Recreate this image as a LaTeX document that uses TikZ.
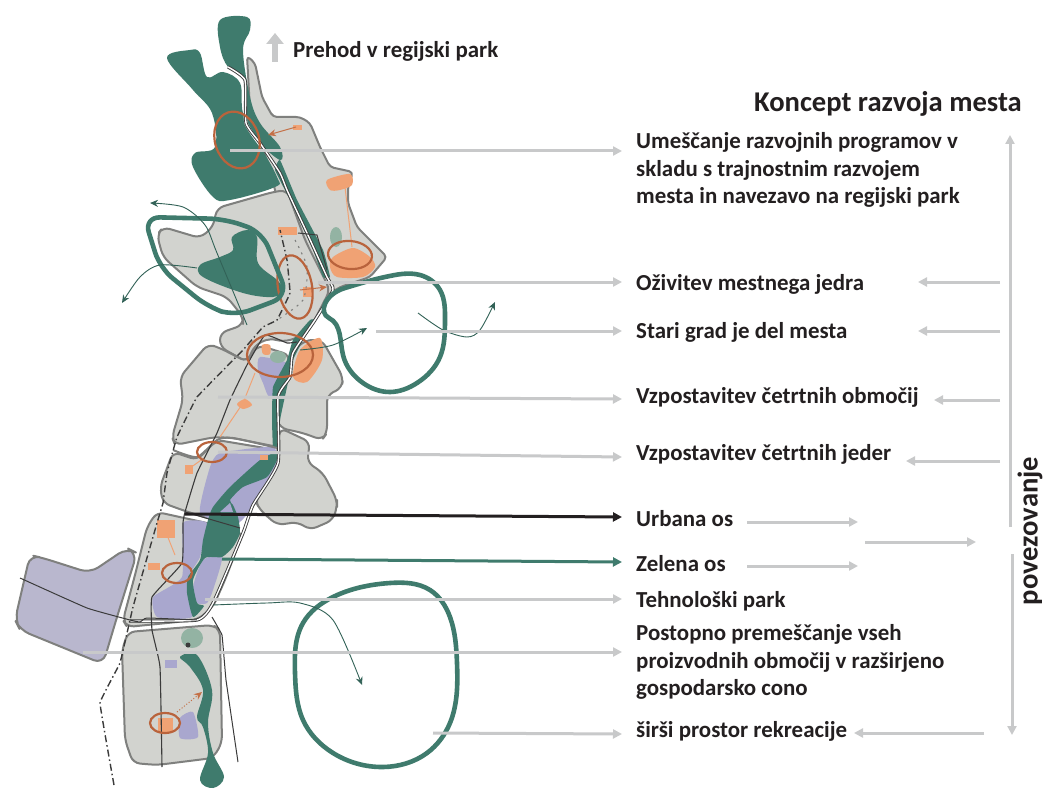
\documentclass[tikz,border=0pt]{standalone}
\usepackage{fontspec}
\setmainfont{Carlito}
\usetikzlibrary{arrows.meta,hobby}
\definecolor{landc}{HTML}{D2D3CF}
\definecolor{edgec}{HTML}{7F807E}
\definecolor{tealc}{HTML}{3F7B6D}
\definecolor{purp}{HTML}{A9A7CE}
\definecolor{purpl}{HTML}{B9B7CE}
\definecolor{oran}{HTML}{F0A274}
\definecolor{brwn}{HTML}{B9633C}
\definecolor{pale}{HTML}{93B3A3}
\definecolor{pointer}{HTML}{C8C9CA}
\definecolor{roadc}{HTML}{3B3B3B}
\definecolor{txtc}{HTML}{231F20}
\tikzset{
 blob/.style={use Hobby shortcut,closed=true},
 land/.style={draw=edgec,fill=landc,line width=2pt,line join=round,rounded corners=7pt},
 parkshape/.style={fill=tealc},
 purpshape/.style={fill=purp},
 oranshape/.style={fill=oran},
 loopline/.style={draw=tealc,line width=4.6pt,blob},
 ring/.style={draw=brwn,line width=2.2pt},
 road/.style={draw=roadc,line width=1pt},
 dashroad/.style={draw=roadc,line width=1.4pt,dash pattern=on 7pt off 3pt on 1.5pt off 3pt},
 dotroad/.style={draw=edgec,line width=1.1pt,dash pattern=on 2pt off 5pt},
 flow/.style={draw=tealc!80!black,line width=.9pt,-{Stealth[length=8pt,width=7pt]}},
 orline/.style={draw=oran,line width=1pt},
 orarrow/.style={draw=brwn!80!oran,line width=1pt,-{Stealth[length=8pt,width=7pt]}},
 pointerline/.style={draw=pointer,line width=3pt,-{Triangle[length=9pt,width=9pt]}},
 label/.style={anchor=west,inner sep=0pt,align=left,text=txtc,font=\bfseries\fontsize{22.9}{27.5}\selectfont},
}
\begin{document}
\begin{tikzpicture}[x=1pt,y=-1pt]
\useasboundingbox (0,0) rectangle (1044,789);
\fill[white] (0,0) rectangle (1044,789);
% land
\draw[land,rounded corners=4pt] (247,56)--(255,63)--(262,97)--(273,117)--(300,117)--(310,123)--(320,147)--(330,167)--(353,172)--(348,187)--(348,203)--(357,227)--(387,257)--(370,277)--(340,287)--(320,300)--(290,250)--(270,170)--(250,110)--cycle;
\draw[land] (217,208)--(273,192)--(287,190)--(305,240)--(330,290)--(312,325)--(300,337)--(283,342)--(270,338)--(255,345)--(247,362)--(220,347)--(220,333)--(243,325)--(243,317)--(227,297)--(197,287)--(163,257)--(157,235)--(163,227)--(200,238)--(213,227)--cycle;
\draw[land] (322,340)--(343,377)--(342,388)--(327,395)--(327,433)--(322,440)--(303,433)--(280,428)--(270,400)--(295,350)--(305,340)--cycle;
\draw[land] (208,344)--(220,348)--(247,362)--(258,345)--(290,355)--(280,395)--(278,447)--(233,438)--(215,437)--(175,445)--(172,437)--(183,400)--(180,377)--cycle;
\draw[land] (280,428)--(310,442)--(307,462)--(323,473)--(337,500)--(337,507)--(333,520)--(310,530)--(298,522)--(277,525)--(260,510)--(255,500)--(275,470)--cycle;
\draw[land] (173,452)--(197,460)--(217,440)--(277,450)--(277,465)--(253,507)--(230,525)--(185,511)--(163,503)--(160,487)--cycle;
\draw[land] (157,512)--(207,523)--(243,533)--(225,580)--(213,607)--(197,620)--(127,627)--(123,620)--(135,575)--(147,527)--cycle;
\draw[land,fill=purpl,rounded corners=10pt] (43,558)--(90,573)--(127,548)--(137,553)--(117,617)--(103,664)--(20,630)--(15,620)--(30,555)--cycle;
\draw[land] (128,632)--(213,625)--(220,630)--(222,743)--(213,758)--(157,765)--(133,763)--(125,740)--(122,650)--cycle;
% purple
\fill[purpshape] plot[smooth cycle,tension=.3] coordinates {(210,467)(220,453)(273,447)(277,467)(253,507)(235,525)(200,513)};
\fill[purpshape] plot[smooth cycle,tension=.3] coordinates {(183,523)(207,523)(200,557)(187,580)(192,617)(157,617)(153,597)(182,577)};
\fill[purpshape] plot[smooth cycle,tension=.4] coordinates {(203,560)(222,557)(213,590)(207,603)(197,603)(193,587)};
\fill[purpshape] plot[smooth cycle,tension=.4] coordinates {(260,357)(287,363)(287,378)(270,397)(263,383)(258,370)};
\fill[purpshape] (165,660) rectangle (177,668);
\fill[purpshape] plot[smooth cycle,tension=.4] coordinates {(180,718)(193,712)(198,737)(180,738)};
% green masses
\fill[parkshape] plot[smooth cycle,tension=.6] coordinates {(220,20)(247,17)(250,30)(243,50)(250,97)(260,123)(280,147)(280,160)(257,140)(245,115)(245,80)(228,67)(220,47)};
\fill[parkshape] plot[smooth cycle,tension=.6] coordinates {(167,58)(190,50)(200,53)(207,77)(223,72)(240,83)(243,113)(257,140)(277,177)(275,187)(230,200)(213,197)(193,167)(195,153)(215,147)(212,113)(193,90)};
\fill[parkshape] plot[smooth cycle,tension=.6] coordinates {(232,237)(247,230)(257,237)(258,263)(277,280)(283,290)(273,297)(243,293)(203,277)(200,265)(220,257)(233,250)};
\fill[parkshape] plot[smooth cycle,tension=.2] coordinates {(280,160)(297,200)(323,250)(330,277)(323,277)(313,250)(290,200)(275,170)};
\fill[parkshape] plot[smooth cycle,tension=.2] coordinates {(310,320)(293,340)(287,360)(273,387)(272,420)(273,447)(278,447)(280,420)(287,387)(293,360)(303,340)(316,320)};
\fill[parkshape] plot[smooth cycle,tension=.35] coordinates {(277,452)(277,460)(267,477)(243,487)(230,500)(233,505)(238,517)(240,533)(233,547)(222,557)(205,558)(193,580)(197,603)(204,606)(193,617)(187,593)(188,577)(200,560)(203,540)(208,520)(213,507)(230,487)(260,460)};
\fill[purpshape] (230,503)--(220,512)--(233,512)--cycle;
\fill[parkshape] plot[smooth cycle,tension=.6] coordinates {(180,657)(197,655)(212,690)(208,723)(213,753)(224,777)(213,788)(200,780)(208,753)(203,727)(197,717)(203,690)(190,667)};
% pale and orange
\fill[pale] (192,638) circle[x radius=11pt,y radius=10pt];
\fill[pale] (336,237) circle[x radius=6pt,y radius=10pt];
\fill[pale] (278,357) circle[x radius=8pt,y radius=6pt];
\fill[roadc] (188,645) circle[radius=2.5pt];
\fill[oranshape] plot[smooth cycle,tension=.5] coordinates {(327,180)(350,174)(352,185)(340,190)(330,190)};
\fill[oranshape] plot[smooth cycle,tension=.5] coordinates {(333,257)(353,248)(370,257)(375,267)(363,277)(337,277)(330,267)};
\fill[oranshape] (278,227) rectangle (297,235);
\fill[oranshape] (303,287) rectangle (313,297);
\fill[oranshape] (293,125) rectangle (302,130);
\fill[oranshape] plot[smooth cycle,tension=.5] coordinates {(262,345)(270,345)(270,354)(263,354)};
\fill[oranshape] plot[smooth cycle,tension=.5] coordinates {(300,350)(320,338)(322,360)(307,382)(293,377)};
\fill[oranshape] plot[smooth cycle,tension=.5] coordinates {(237,404)(245,399)(252,405)(243,409)};
\fill[oranshape] (185,465) rectangle (193,474);
\fill[oranshape] (157,520) rectangle (175,538);
\fill[oranshape] (148,563) rectangle (160,570);
\fill[oranshape] (158,718) rectangle (173,732);
\fill[oranshape] (260,455) rectangle (268,460);
\coordinate (ol1) at (345,187); \coordinate (ol2) at (352,247);
\coordinate (ol3) at (255,373); \coordinate (ol4) at (243,403); \coordinate (ol5) at (220,437);
\coordinate (ol6) at (167,535); \coordinate (ol7) at (175,555);
\coordinate (ol8) at (190,468); \coordinate (ol9) at (204,458);
\draw[orline] (ol1)--(ol2); \draw[orline] (ol3)--(ol4)--(ol5); \draw[orline] (ol6)--(ol7); \draw[orline] (ol8)--(ol9);
\coordinate (oa1) at (296,127); \coordinate (oa2) at (268,135);
\coordinate (oa3) at (300,290); \coordinate (oa4) at (327,287);
\coordinate (oa5) at (177,712); \coordinate (oa6) at (202,692);
\draw[orarrow] (oa1)--(oa2); \draw[orarrow] (oa3)--(oa4); \draw[orarrow,dotted] (oa5)--(oa6);
% river white channel and double lines
\draw[draw=white,line width=3.4pt,line cap=round] plot[smooth,tension=.3] coordinates {(245,82)(246,123)(262,147)};
\draw[draw=roadc,line width=3.2pt,line join=round] plot[smooth,tension=.3] coordinates {(228,67)(245,80)(246,123)(260,143)(280,173)(287,190)(307,233)(327,277)(333,290)(315,320)(293,353)(290,377)(278,397)(278,463)(253,505)(243,533)(213,603)(197,620)(130,621)};
\draw[draw=white,line width=1.4pt,line join=round] plot[smooth,tension=.3] coordinates {(228,67)(245,80)(246,123)(260,143)(280,173)(287,190)(307,233)(327,277)(333,290)(315,320)(293,353)(290,377)(278,397)(278,463)(253,505)(243,533)(213,603)(197,620)(130,621)};
% block edges
\draw[draw=edgec,line width=2pt] plot[smooth,tension=.4] coordinates {(173,450)(197,457)(217,440)(233,438)(277,448)};
% roads
\draw[road,line width=1.1pt] plot[smooth,tension=.2] coordinates {(162,767)(160,667)(152,630)(152,597)(182,563)(183,523)(185,512)(197,473)(217,433)(230,400)(247,365)(265,335)(287,343)(297,342)};
\draw[road] (185,512)--(240,528);
\draw[road] plot[smooth,tension=.2] coordinates {(20,578)(87,608)(130,620)(140,622)(147,618)(197,620)};
\draw[road] plot[smooth,tension=.1] coordinates {(212,617)(222,635)(226,680)(238,762)};
\draw[road] (298,233)--(317,235)--(327,270);
\draw[dashroad] plot[smooth,tension=.1] coordinates {(114,785)(100,703)(120,663)(133,607)(157,523)(163,503)(167,473)(177,437)(197,397)(243,350)(263,327)(277,320)(290,293)(287,260)(280,230)};
\draw[dotroad] plot[smooth,tension=.4] coordinates {(295,240)(307,267)(303,300)(277,320)};
% rings
\draw[ring,rotate around={18:(237,140)}] (237,140) circle[x radius=22pt,y radius=29pt];
\draw[ring,rotate around={-5:(350,255)}] (350,255) circle[x radius=22pt,y radius=14pt];
\draw[ring,rotate around={10:(295,287)}] (295,287) circle[x radius=17pt,y radius=32pt];
\draw[ring] (280,355) circle[x radius=33pt,y radius=22pt];
\draw[ring] (212,452) circle[x radius=15pt,y radius=10pt];
\draw[ring] (177,573) circle[x radius=15pt,y radius=10pt];
\draw[ring] (165,723) circle[x radius=15pt,y radius=10pt];
% green loops
\draw[draw=tealc,line width=4.6pt,rounded corners=16pt] (144,217)--(225,219)--(262,232)--(288,296)--(235,316)--(208,307)--(160,268)--cycle;
\draw[loopline] (345,288)..(385,277)..(420,275)..(440,290)..(445,320)..(440,357)..(417,383)..(390,392)..(363,383)..(343,355)..(329,318);
\draw[loopline] (390,583)..(430,590)..(450,617)..(457,663)..(450,723)..(427,753)..(383,767)..(333,753)..(303,720)..(295,673)..(303,623)..(333,597);
% thin flows
\coordinate (f1a) at (247,325); \coordinate (f1b) at (150,203);
\coordinate (f2a) at (197,268); \coordinate (f2b) at (122,303);
\coordinate (f3a) at (300,350); \coordinate (f3b) at (367,328);
\coordinate (f4a) at (418,313); \coordinate (f4b) at (495,302);
\coordinate (f5a) at (213,605); \coordinate (f5b) at (362,685);
\draw[flow] plot[smooth,tension=.5] coordinates {(f1a)(217,253)(205,225)(183,207)(f1b)};
\draw[flow] plot[smooth,tension=.5] coordinates {(f2a)(160,265)(140,277)(f2b)};
\draw[flow] plot[smooth,tension=.5] coordinates {(f3a)(333,345)(f3b)};
\draw[flow] plot[smooth,tension=.5] coordinates {(f4a)(443,330)(467,337)(480,330)(f4b)};
\draw[flow] plot[smooth,tension=.5] coordinates {(f5a)(267,603)(300,603)(333,620)(f5b)};
% texts
\node[label,anchor=base west] (prehod) at (293,58) {Prehod v regijski park};
\node[label,font=\bfseries\fontsize{28.6}{34}\selectfont,anchor=base east] (koncept) at (1022,112) {Koncept razvoja mesta};
\node[label] (t1) at (636,170) {Umeščanje razvojnih programov v\\skladu s trajnostnim razvojem\\mesta in navezavo na regijski park};
\node[label,anchor=base west] (t2) at (636,290) {Oživitev mestnega jedra};
\node[label,anchor=base west] (t3) at (636,338) {Stari grad je del mesta};
\node[label,anchor=base west] (t4) at (636,403) {Vzpostavitev četrtnih območij};
\node[label,anchor=base west] (t5) at (636,460) {Vzpostavitev četrtnih jeder};
\node[label,anchor=base west] (t6) at (636,526) {Urbana os};
\node[label,anchor=base west] (t7) at (636,571) {Zelena os};
\node[label,anchor=base west] (t8) at (636,607) {Tehnološki park};
\node[label] (t9) at (636,662) {Postopno premeščanje vseh\\proizvodnih območij v razširjeno\\gospodarsko cono};
\node[label,anchor=base west] (t10) at (636,737) {širši prostor rekreacije};
\node[label,rotate=90,anchor=center,font=\bfseries\fontsize{28.6}{34}\selectfont] (pov) at (1030,531) {povezovanje};
% left pointers
\coordinate (s1) at (230,151); \coordinate (e1) at (622,151);
\coordinate (s2) at (318,282); \coordinate (e2) at (622,282);
\coordinate (s3) at (376,331); \coordinate (e3) at (622,331);
\coordinate (s4) at (218,397); \coordinate (e4) at (622,399);
\coordinate (s5) at (218,452); \coordinate (e5) at (622,457);
\coordinate (s6) at (185,514); \coordinate (e6) at (622,517);
\coordinate (s7) at (222,559); \coordinate (e7) at (622,562);
\coordinate (s8) at (205,599); \coordinate (e8) at (622,599);
\coordinate (s9) at (83,652); \coordinate (e9) at (622,652);
\coordinate (s10) at (433,733); \coordinate (e10) at (622,734);
\foreach \i in {1,2,3,4,5,8,9,10} {\draw[pointerline] (s\i)--(e\i);}
\draw[pointerline,draw=txtc] (s6)--(e6);
\draw[pointerline,draw=tealc] (s7)--(e7);
% right pointers
\coordinate (r2) at (1000,282); \coordinate (q2) at (918,282);
\coordinate (r3) at (1000,331); \coordinate (q3) at (918,331);
\coordinate (r4) at (1000,400); \coordinate (q4) at (934,400);
\coordinate (r5) at (1000,461); \coordinate (q5) at (906,461);
\coordinate (u1) at (747,522); \coordinate (u2) at (858,522);
\coordinate (z1) at (747,566); \coordinate (z2) at (858,566);
\coordinate (m1) at (865,542); \coordinate (m2) at (976,542);
\coordinate (vu1) at (1010,527); \coordinate (vu2) at (1010,135);
\coordinate (vd1) at (1012,554); \coordinate (vd2) at (1012,735);
\coordinate (w1) at (984,733); \coordinate (w2) at (854,733);
\coordinate (up1) at (275,62); \coordinate (up2) at (275,33);
\foreach \a/\b in {r2/q2,r3/q3,r4/q4,r5/q5,u1/u2,z1/z2,m1/m2,vu1/vu2,vd1/vd2,w1/w2} {\draw[pointerline] (\a)--(\b);}
\draw[pointerline,line width=6pt,-{Triangle[length=11pt,width=17pt]}] (up1)--(up2);
\end{tikzpicture}
\end{document}
